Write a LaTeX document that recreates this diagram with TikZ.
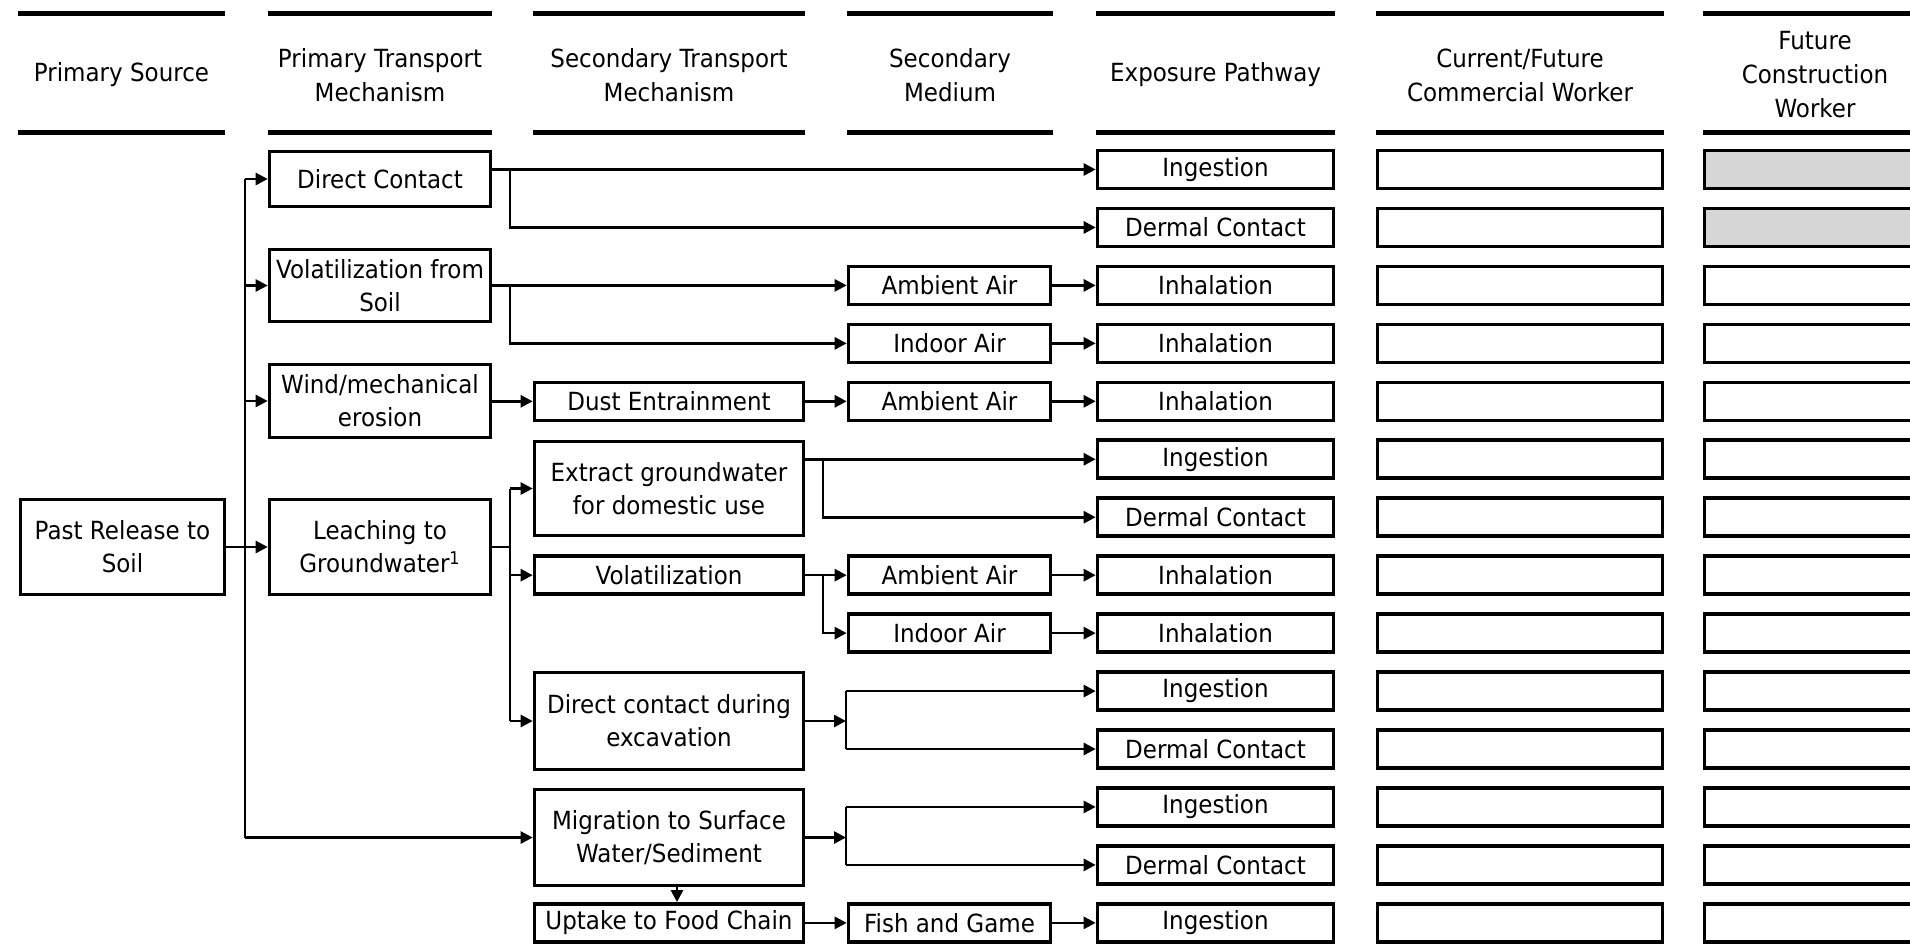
\documentclass[tikz,border=0pt]{standalone}
\usepackage{fontspec}
\setmainfont{DejaVu Sans}[FakeStretch=0.92]
\usetikzlibrary{arrows.meta}
\begin{document}
\begin{tikzpicture}[x=0.5pt,y=-0.5pt,
  bx/.style={draw, line width=1.8pt, inner sep=0pt, align=center, fill=white,
    font=\fontsize{12.5pt}{16.5pt}\selectfont},
  rowbox/.style={bx, minimum height=19pt},
  srcbox/.style={bx, minimum width=102pt},
  primbox/.style={bx, minimum width=110.5pt},
  secbox/.style={bx, minimum width=134.5pt},
  medbox/.style={rowbox, minimum width=101pt},
  expbox/.style={rowbox, minimum width=118pt},
  combox/.style={rowbox, minimum width=142.5pt},
  conbox/.style={rowbox, minimum width=150pt},
  hd/.style={align=center, font=\fontsize{12.5pt}{17pt}\selectfont},
  bar/.style={line width=2.8pt},
  conn/.style={line width=1.3pt},
  arr/.style={conn, -{Triangle[length=6pt,width=6pt]}}]
\clip (0,0) rectangle (1910,944);
\fill[white] (0,0) rectangle (1910,944);

% header bars
\foreach \a/\b in {18/225,268/492,533/805,847/1053,1096/1335,1376/1664,1703/1910}{
  \draw[bar] (\a,13.5) -- (\b,13.5);
  \draw[bar] (\a,132.5) -- (\b,132.5);
}
% header texts
\node[hd] (h1) at (121.5,75) {Primary Source};
\node[hd] (h2) at (380,75) {Primary Transport\\Mechanism};
\node[hd] (h3) at (669,75) {Secondary Transport\\Mechanism};
\node[hd] (h4) at (950,75) {Secondary\\Medium};
\node[hd] (h5) at (1215.5,75) {Exposure Pathway};
\node[hd] (h6) at (1520,75) {Current/Future\\Commercial Worker};
\node[hd] (h7) at (1815,75) {Future\\Construction\\Worker};

% source and primary transport
\node[srcbox, minimum height=47.5pt] (src) at (122.5,547) {Past Release to\\Soil};
\node[primbox, minimum height=27.5pt] (dc) at (380,179) {Direct Contact};
\node[primbox, minimum height=36pt] (vs) at (380,285.5) {Volatilization from\\Soil};
\node[primbox, minimum height=36.5pt] (wind) at (380,401) {Wind/mechanical\\erosion};
\node[primbox, minimum height=47.5pt] (leach) at (380,547) {Leaching to\\Groundwater\textsuperscript{1}};

% secondary transport
\node[secbox, minimum height=19pt] (dust) at (669,{169.5+57.95*4}) {Dust Entrainment};
\node[secbox, minimum height=47pt] (extr) at (669,488.5) {Extract groundwater\\for domestic use};
\node[secbox, minimum height=19pt] (vol) at (669,{169.5+57.95*7}) {Volatilization};
\node[secbox, minimum height=48.5pt] (exc) at (669,721) {Direct contact during\\excavation};
\node[secbox, minimum height=48pt] (mig) at (669,837.5) {Migration to Surface\\Water/Sediment};
\node[secbox, minimum height=19pt] (upt) at (669,{169.5+57.95*13}) {Uptake to Food Chain};

% secondary medium
\node[medbox] (amb1) at (949.5,{169.5+57.95*2}) {Ambient Air};
\node[medbox] (ind1) at (949.5,{169.5+57.95*3}) {Indoor Air};
\node[medbox] (amb2) at (949.5,{169.5+57.95*4}) {Ambient Air};
\node[medbox] (amb3) at (949.5,{169.5+57.95*7}) {Ambient Air};
\node[medbox] (ind2) at (949.5,{169.5+57.95*8}) {Indoor Air};
\node[medbox] (fish) at (949.5,{169.5+57.95*13}) {Fish and Game};

% exposure pathway and receptor boxes
\foreach \i/\t in {0/Ingestion,1/Dermal Contact,2/Inhalation,3/Inhalation,4/Inhalation,
  5/Ingestion,6/Dermal Contact,7/Inhalation,8/Inhalation,9/Ingestion,10/Dermal Contact,
  11/Ingestion,12/Dermal Contact,13/Ingestion}{
  \node[expbox] (e\i) at (1215.5,{169.5+57.95*\i}) {\t};
  \node[combox] (w\i) at (1520,{169.5+57.95*\i}) {};
  \ifnum\i<2 \def\fc{black!16}\else\def\fc{white}\fi
  \node[conbox, fill=\fc] (k\i) at (1854.6,{169.5+57.95*\i}) {};
}

% branch columns
\coordinate (sp) at (245,0);
\coordinate (bx1) at (510,0);
\coordinate (bx2) at (823,0);
\coordinate (bx3) at (846,0);

% left spine
\draw[conn] (sp |- dc.west) -- (sp |- mig.west);
\draw[arr] (sp |- dc.west) -- (dc.west);
\draw[arr] (sp |- vs.west) -- (vs.west);
\draw[arr] (sp |- wind.west) -- (wind.west);
\draw[arr] (src.east) -- (leach.west);
\draw[arr] (sp |- mig.west) -- (mig.west);

% direct contact
\draw[arr] (dc.east |- e0.west) -- (e0.west);
\draw[arr] (bx1 |- e0.west) -- (bx1 |- e1.west) -- (e1.west);

% volatilization from soil
\draw[arr] (vs.east |- amb1.west) -- (amb1.west);
\draw[arr] (bx1 |- amb1.west) -- (bx1 |- ind1.west) -- (ind1.west);
\draw[arr] (amb1.east) -- (e2.west);
\draw[arr] (ind1.east) -- (e3.west);

% wind erosion
\draw[arr] (wind.east |- dust.west) -- (dust.west);
\draw[arr] (dust.east) -- (amb2.west);
\draw[arr] (amb2.east) -- (e4.west);

% leaching
\draw[conn] (leach.east) -- (bx1 |- leach.east);
\draw[conn] (bx1 |- extr.west) -- (bx1 |- exc.west);
\draw[arr] (bx1 |- extr.west) -- (extr.west);
\draw[arr] (bx1 |- vol.west) -- (vol.west);
\draw[arr] (bx1 |- exc.west) -- (exc.west);

% extract groundwater
\draw[arr] (extr.east |- e5.west) -- (e5.west);
\draw[arr] (bx2 |- e5.west) -- (bx2 |- e6.west) -- (e6.west);

% volatilization
\draw[arr] (vol.east) -- (amb3.west);
\draw[arr] (bx2 |- amb3.west) -- (bx2 |- ind2.west) -- (ind2.west);
\draw[arr] (amb3.east) -- (e7.west);
\draw[arr] (ind2.east) -- (e8.west);

% excavation
\draw[arr] (exc.east) -- (bx3 |- exc.east);
\draw[conn] (bx3 |- e9.west) -- (bx3 |- e10.west);
\draw[arr] (bx3 |- e9.west) -- (e9.west);
\draw[arr] (bx3 |- e10.west) -- (e10.west);

% migration to surface water
\draw[arr] (mig.east) -- (bx3 |- mig.east);
\draw[conn] (bx3 |- e11.west) -- (bx3 |- e12.west);
\draw[arr] (bx3 |- e11.west) -- (e11.west);
\draw[arr] (bx3 |- e12.west) -- (e12.west);
\draw[arr] ([xshift=4pt]mig.south) -- ([xshift=4pt]upt.north);

% food chain
\draw[arr] (upt.east) -- (fish.west);
\draw[arr] (fish.east) -- (e13.west);
\end{tikzpicture}
\end{document}
